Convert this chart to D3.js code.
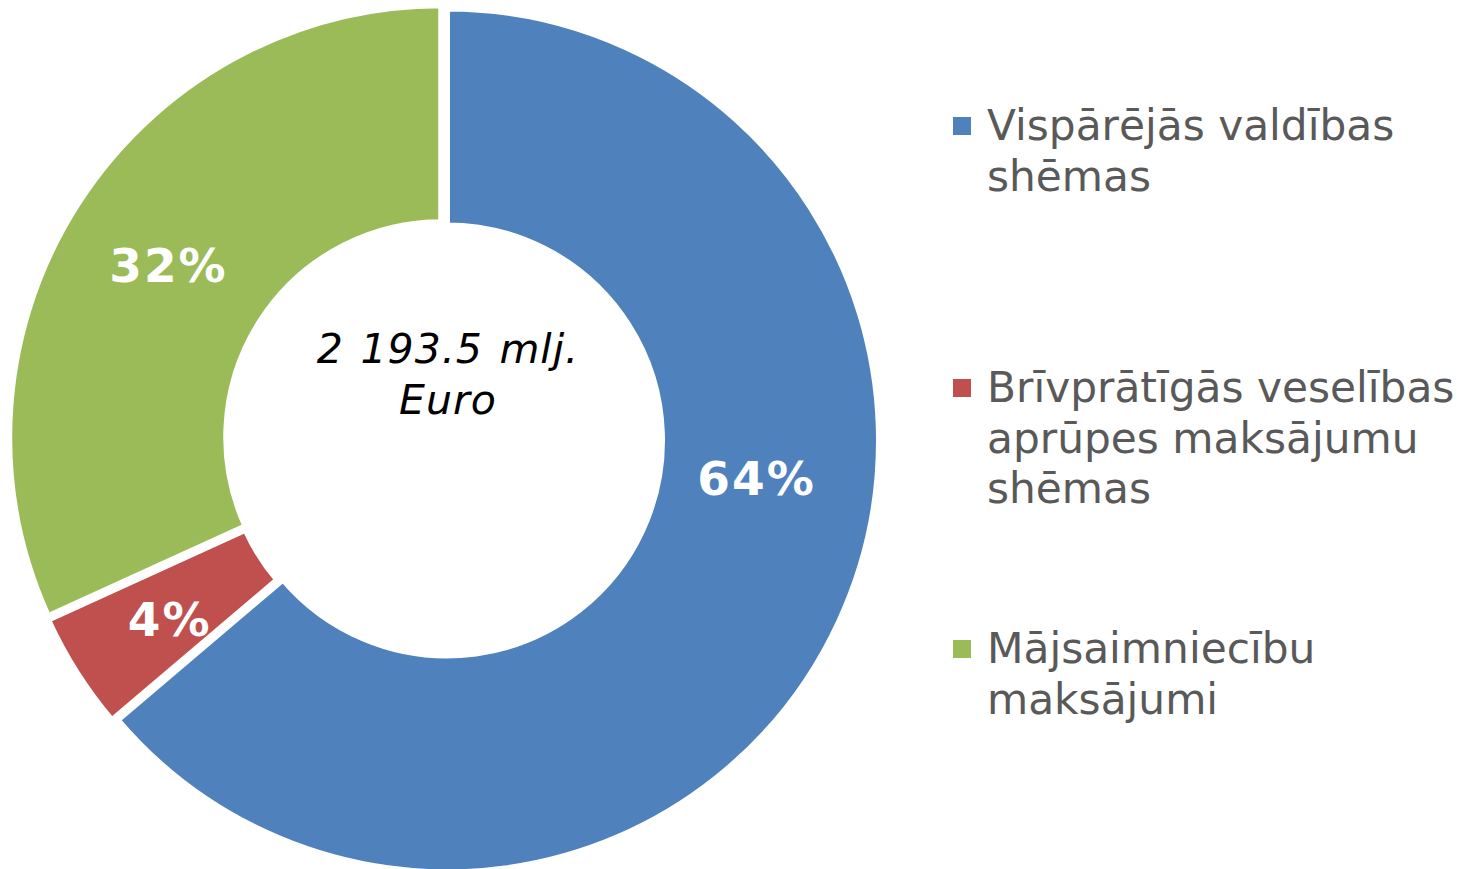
<!DOCTYPE html>
<html>
<head>
<meta charset="utf-8">
<script src="https://cdn.jsdelivr.net/npm/d3@7"></script>
<style>
  html, body { margin: 0; padding: 0; background: #fff; }
  svg { display: block; }
</style>
</head>
<body>
<svg id="chart" width="1469" height="869"></svg>
<script>
// ---- data (mlj. Euro) ----
const categories = ["Vispārējās valdības shēmas", "Brīvprātīgās veselības aprūpes maksājumu shēmas", "Mājsaimniecību maksājumi"];
const legendLines = [["Vispārējās valdības", "shēmas"], ["Brīvprātīgās veselības", "aprūpes maksājumu", "shēmas"], ["Mājsaimniecību", "maksājumi"]];
const values = [1399.5, 96.5, 697.5];
const percentLabels = ["64%", "4%", "32%"];
const centerLines = ["2 193.5 mlj.", "Euro"];
const colors = ["#4F81BD", "#C0504D", "#9BBB59"];

// ---- layout ----
const svg = d3.select("#chart");
const cx = 444, cy = 439;
const outerR = 432, innerR = 215, explode = 3.3;
const labelR = 327;
const labelAngleNudge = [-0.31, -0.014, -0.009]; // radians, Excel-style best-fit shift
const labelRadiusNudge = [-13, 2, 0];
const font = "'DejaVu Sans', Verdana, sans-serif";

const pie = d3.pie().sort(null).value(d => d)(values);
const arc = d3.arc().innerRadius(innerR).outerRadius(outerR);

const g = svg.append("g").attr("transform", `translate(${cx},${cy})`);

g.selectAll("path.slice")
  .data(pie)
  .join("path")
  .attr("class", "slice")
  .attr("d", arc)
  .attr("fill", (d, i) => colors[i])
  .attr("stroke", "#fff")
  .attr("stroke-width", 6)
  .attr("stroke-linejoin", "miter")
  .attr("transform", d => {
    const a = (d.startAngle + d.endAngle) / 2;
    return `translate(${explode * Math.sin(a)},${-explode * Math.cos(a)})`;
  });

const pctSize = 47;
g.selectAll("text.pct")
  .data(pie)
  .join("text")
  .attr("class", "pct")
  .attr("x", (d, i) => (labelR + labelRadiusNudge[i]) * Math.sin((d.startAngle + d.endAngle) / 2 + labelAngleNudge[i]) + 1)
  .attr("y", (d, i) => -(labelR + labelRadiusNudge[i]) * Math.cos((d.startAngle + d.endAngle) / 2 + labelAngleNudge[i]) + pctSize * 0.729 / 2)
  .attr("text-anchor", "middle")
  .attr("font-family", font)
  .attr("font-weight", "bold")
  .attr("font-size", pctSize)
  .attr("letter-spacing", 2)
  .attr("fill", "#fff")
  .text((d, i) => percentLabels[i]);

// center text
g.append("text")
  .attr("text-anchor", "middle")
  .attr("font-family", font)
  .attr("font-style", "italic")
  .attr("font-size", 41)
  .attr("letter-spacing", 1)
  .attr("word-spacing", 2.5)
  .attr("fill", "#000")
  .selectAll("tspan")
  .data(centerLines)
  .join("tspan")
  .attr("x", 4)
  .attr("y", (d, i) => -76 + i * 50.5)
  .text(d => d);

// legend
const legendX = 953, textX = 987;
const legendTop = [140, 402, 663];
const lineH = 50.5;
const lg = svg.append("g");
legendLines.forEach((lines, i) => {
  lg.append("rect")
    .attr("x", legendX)
    .attr("y", legendTop[i] - 23)
    .attr("width", 18)
    .attr("height", 18)
    .attr("fill", colors[i]);
  lg.append("text")
    .attr("font-family", font)
    .attr("font-size", 42.3)
    .attr("fill", "#595959")
    .selectAll("tspan")
    .data(lines)
    .join("tspan")
    .attr("x", textX)
    .attr("y", (d, j) => legendTop[i] + j * lineH)
    .text(d => d);
});
</script>
</body>
</html>
